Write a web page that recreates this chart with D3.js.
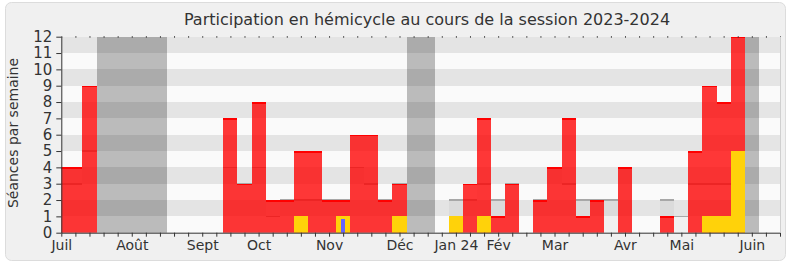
<!doctype html>
<html>
<head>
<meta charset="utf-8">
<title>Participation en hémicycle</title>
<script src="https://d3js.org/d3.v7.min.js"></script>
<style>
  body { margin: 0; background: #fff; }
  text { font-family: "DejaVu Sans", Verdana, sans-serif; fill: #333; }
</style>
</head>
<body>
<svg></svg>
<script>

    // one value per week, week 0 = first week of July 2023
    var presence      = [4,4,9,0,0,0,0,0,0,0,0,0,7,3,8,2,2,5,5,2,2,6,6,2,3,0,0,0,1,3,7,1,3,0,2,4,7,1,2,0,4,0,0,1,0,5,9,8,12,0,0,0];
    var participation = [0,0,0,0,0,0,0,0,0,0,0,0,0,0,0,0,0,1,0,0,1,0,0,0,1,0,0,0,1,0,1,0,0,0,0,0,0,0,0,0,0,0,0,0,0,0,1,1,5,0,0,0];
    var questions     = [0,0,0,0,0,0,0,0,0,0,0,0,0,0,0,0,0,0,0,0,1,0,0,0,0,0,0,0,0,0,0,0,0,0,0,0,0,0,0,0,0,0,0,0,0,0,0,0,0,0,0,0];
    var median        = [3,3,5,0,0,0,0,0,0,0,0,0,4,3,4,1,2,2,2,2,2,4,3,2,3,0,0,0,2,2,3,2,3,0,2,4,3,2,2,2,4,0,0,2,1,3,3,3,3,0,0,0];
    // parliamentary holidays: [first week, last week]
    var vacances = [[3, 7], [25, 26], [49, 49]];
    var monthLabels = ["Juil", "Août", "Sept", "Oct", "Nov", "Déc", "Jan 24", "Fév", "Mar", "Avr", "Mai", "Juin"];
    var monthWeeks  = [0, 5, 10, 14, 19, 24, 28, 31, 35, 40, 44, 49];
    var yTicks = d3.range(0, 13);

    var svgWidth = 790, svgHeight = 267;
    var plotLeft = 61.3, plotRight = 780, plotTop = 36.7, plotBottom = 232.7;

    var svg = d3.select('svg')
        .attr('width', svgWidth)
        .attr('height', svgHeight);

    svg.append('rect')
        .attr('x', 5.5).attr('y', 2.5)
        .attr('width', 780).attr('height', 258)
        .attr('rx', 6)
        .attr('fill', '#f0f0f0')
        .attr('stroke', '#dcdcdc');

    var x = d3.scaleLinear().domain([0, 51]).range([plotLeft, plotRight]);
    var y = d3.scaleLinear().domain([0, 12]).range([plotBottom, plotTop]);

    svg.append('clipPath').attr('id', 'plot')
        .append('rect')
        .attr('x', plotLeft).attr('y', plotTop)
        .attr('width', plotRight - plotLeft).attr('height', plotBottom - plotTop);

    var g = svg.append('g')
        .attr('clip-path', 'url(#plot)')
        .attr('shape-rendering', 'crispEdges');

    function bx(w) { return x(w - 0.5); }
    function bw(w) { return x(w + 0.5) - x(w - 0.5); }

    // background stripes
    g.selectAll('.stripe')
        .data(d3.range(0, 12))
        .enter().append('rect')
        .attr('x', plotLeft)
        .attr('width', plotRight - plotLeft)
        .attr('y', function (d) { return y(d + 1); })
        .attr('height', function (d) { return y(d) - y(d + 1); })
        .attr('fill', function (d) { return d % 2 ? '#e5e5e5' : '#fafafa'; });

    // holidays
    g.selectAll('.vac')
        .data(vacances)
        .enter().append('rect')
        .attr('x', function (d) { return x(d[0] - 0.5); })
        .attr('width', function (d) { return x(d[1] + 0.5) - x(d[0] - 0.5); })
        .attr('y', y(12))
        .attr('height', y(0) - y(12))
        .attr('fill', 'rgba(0,0,0,0.25)');

    var weeks = d3.range(presence.length);

    // median of all deputies
    var med = weeks.filter(function (w) { return median[w] > 0; });
    g.append('g').attr('opacity', 0.035)
        .selectAll('rect')
        .data(med)
        .enter().append('rect')
        .attr('x', bx)
        .attr('width', bw)
        .attr('y', function (w) { return y(median[w]); })
        .attr('height', function (w) { return y(0) - y(median[w]); })
        .attr('fill', '#000');
    g.selectAll('.medline')
        .data(med)
        .enter().append('rect')
        .attr('x', bx)
        .attr('width', bw)
        .attr('y', function (w) { return y(median[w]) - 0.8; })
        .attr('height', 1.6)
        .attr('fill', '#a8a8a8');

    // presence
    var pres = weeks.filter(function (w) { return presence[w] > 0; });
    g.append('g').attr('opacity', 0.78)
        .selectAll('rect')
        .data(pres)
        .enter().append('rect')
        .attr('x', bx)
        .attr('width', bw)
        .attr('y', function (w) { return y(presence[w]); })
        .attr('height', function (w) { return y(0) - y(presence[w]); })
        .attr('fill', '#ff0000');
    g.append('g')
        .selectAll('rect')
        .data(pres)
        .enter().append('rect')
        .attr('x', bx)
        .attr('width', bw)
        .attr('y', function (w) { return y(presence[w]); })
        .attr('height', 1.5)
        .attr('fill', '#ff0000');

    // participation
    g.selectAll('.part')
        .data(weeks.filter(function (w) { return participation[w] > 0; }))
        .enter().append('rect')
        .attr('x', bx)
        .attr('width', bw)
        .attr('y', function (w) { return y(participation[w]); })
        .attr('height', function (w) { return y(0) - y(participation[w]); })
        .attr('fill', '#ffd20a');

    // questions orales
    g.selectAll('.quest')
        .data(weeks.filter(function (w) { return questions[w] > 0; }))
        .enter().append('rect')
        .attr('x', function (w) { return x(w - 0.14); })
        .attr('width', x(0.28) - x(0))
        .attr('y', function (w) { return y(questions[w]) + 2.5; })
        .attr('height', function (w) { return y(0) - y(questions[w]) - 2.5; })
        .attr('fill', '#6464ff');

    // axes
    var y_axis = d3.axisLeft(y).tickValues(yTicks).tickSize(5).tickPadding(4).tickSizeOuter(0);
    var yg = svg.append('g')
        .attr('transform', 'translate(' + plotLeft + ',0)')
        .call(y_axis);
    yg.selectAll('text').style('font-size', '15px');

    var x_axis = d3.axisBottom(x)
        .tickValues(d3.range(0, 52))
        .tickSize(4).tickPadding(3).tickSizeOuter(0)
        .tickFormat(function (w) {
            var i = monthWeeks.indexOf(w);
            return i < 0 ? '' : monthLabels[i];
        });
    var xg = svg.append('g')
        .attr('transform', 'translate(0,' + plotBottom + ')')
        .call(x_axis);
    xg.selectAll('text').style('font-size', '14px');

    var top_axis = d3.axisTop(x).tickValues(d3.range(0, 52)).tickSize(-1.5).tickFormat('').tickSizeOuter(0);
    var tg = svg.append('g')
        .attr('transform', 'translate(0,' + (plotTop - 0.5) + ')')
        .call(top_axis);
    tg.select('.domain').remove();

    [yg, xg, tg].forEach(function (a) {
        a.selectAll('line').attr('stroke', '#333');
        a.selectAll('.domain').attr('stroke', '#333');
    });
    yg.selectAll('text').style('fill', '#333');
    xg.selectAll('text').style('fill', '#333');

    svg.append('line')
        .attr('x1', plotRight + 0.5).attr('x2', plotRight + 0.5)
        .attr('y1', plotTop).attr('y2', plotBottom)
        .attr('stroke', '#d0d0d0');

    svg.append('text')
        .attr('x', 427).attr('y', 25)
        .attr('text-anchor', 'middle')
        .style('font-size', '16px')
        .text('Participation en hémicycle au cours de la session 2023-2024');

    svg.append('text')
        .attr('transform', 'translate(18,133) rotate(-90)')
        .attr('text-anchor', 'middle')
        .style('font-size', '14px')
        .text('Séances par semaine');

</script>
</body>
</html>
